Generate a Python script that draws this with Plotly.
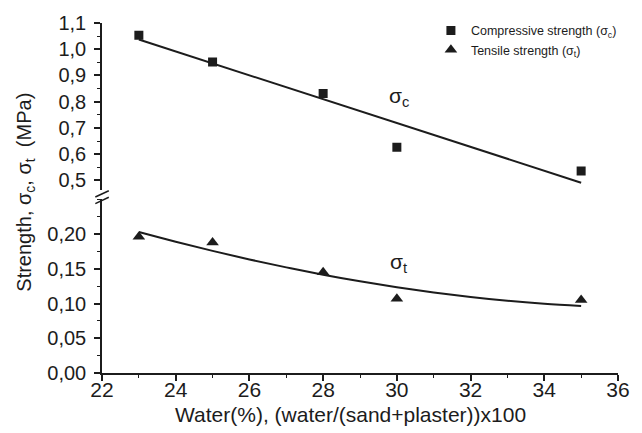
import plotly.graph_objects as go

# ---- data ----
water = [23, 25, 28, 30, 35]
compressive = [1.053, 0.951, 0.831, 0.626, 0.536]
tensile = [0.196, 0.188, 0.145, 0.107, 0.105]

fit_c_x = [23, 35]
fit_c_y = [1.037, 0.491]

fit_t_x = [23, 24, 25, 26, 27, 28, 29, 30, 31, 32, 33, 34, 35]
fit_t_y = [0.203, 0.189, 0.1758, 0.1634, 0.152, 0.1415, 0.132, 0.1235,
           0.116, 0.1095, 0.104, 0.0997, 0.0964]

x_ticks = [22, 24, 26, 28, 30, 32, 34, 36]
x_ticktext = ["22", "24", "26", "28", "30", "32", "34", "36"]
upper_ticks = [0.5, 0.6, 0.7, 0.8, 0.9, 1.0, 1.1]
upper_ticktext = ["0,5", "0,6", "0,7", "0,8", "0,9", "1,0", "1,1"]
lower_ticks = [0.0, 0.05, 0.10, 0.15, 0.20]
lower_ticktext = ["0,00", "0,05", "0,10", "0,15", "0,20"]

# ---- layout geometry (pixels) ----
W, H = 642, 433
L, R, T, B = 101.7, 618.3, 22.7, 372.7
PW, PH = R - L, B - T

def px(x):
    return (x - L) / PW

def py(y):
    return (B - y) / PH

INK = "#1c1c1c"
FONT = "Liberation Sans, Arial, sans-serif"

fig = go.Figure()

# fitted lines
fig.add_trace(go.Scatter(x=fit_c_x, y=fit_c_y, mode="lines", yaxis="y2",
                         line=dict(color=INK, width=2), showlegend=False,
                         hoverinfo="skip"))
fig.add_trace(go.Scatter(x=fit_t_x, y=fit_t_y, mode="lines", yaxis="y",
                         line=dict(color=INK, width=2, shape="spline"),
                         showlegend=False, hoverinfo="skip"))
# data points
fig.add_trace(go.Scatter(x=water, y=compressive, mode="markers", yaxis="y2",
                         marker=dict(symbol="square", size=9, color=INK),
                         name="Compressive strength (σ<sub>c</sub>)"))
fig.add_trace(go.Scatter(x=water, y=tensile, mode="markers", yaxis="y",
                         marker=dict(symbol="triangle-up", size=11, color=INK),
                         name="Tensile strength (σ<sub>t</sub>)"))

axis_common = dict(showline=True, linecolor=INK, linewidth=1.5, showgrid=False,
                   zeroline=False, ticks="outside", ticklen=6, tickwidth=1.5,
                   tickcolor=INK)

fig.update_layout(
    width=W, height=H,
    margin=dict(l=L, r=W - R, t=T, b=H - B),
    paper_bgcolor="white", plot_bgcolor="white",
    font=dict(family=FONT, color=INK),
    xaxis=dict(range=[22, 36], tickvals=x_ticks, ticktext=x_ticktext,
               tickfont=dict(size=21), ticklabelstandoff=-9,
               minor=dict(dtick=1, tick0=22, ticklen=3, tickwidth=1.2,
                          tickcolor=INK, ticks="outside"),
               **axis_common),
    yaxis=dict(domain=[0, py(199)], range=[0, 0.25], tickvals=lower_ticks,
               ticktext=lower_ticktext, tickfont=dict(size=20),
               ticklabelstandoff=4,
               minor=dict(dtick=0.025, tick0=0, ticklen=3, tickwidth=1.2,
                          tickcolor=INK, ticks="outside"),
               **axis_common),
    yaxis2=dict(domain=[py(190), 1], range=[0.462, 1.1], anchor="x",
                tickvals=upper_ticks, ticktext=upper_ticktext,
                tickfont=dict(size=20), ticklabelstandoff=4,
                minor=dict(dtick=0.05, tick0=0.5, ticklen=3, tickwidth=1.2,
                           tickcolor=INK, ticks="outside"),
                **axis_common),
    legend=dict(x=px(431), y=py(15.5), xanchor="left", yanchor="top",
                font=dict(size=12.5, color=INK), bgcolor="rgba(0,0,0,0)",
                itemwidth=30, tracegroupgap=0),
    showlegend=True,
)

# axis break marks
for y0 in (196.7, 203.3):
    fig.add_shape(type="line", xref="paper", yref="paper",
                  x0=px(95), y0=py(y0), x1=px(108.5), y1=py(y0 - 6.3),
                  line=dict(color=INK, width=1.5))

# titles and labels
fig.add_annotation(text="Strength, σ<sub>c</sub>, σ<sub>t</sub>  (MPa)",
                   xref="paper", yref="paper", x=px(25), y=py(192),
                   textangle=-90, showarrow=False,
                   font=dict(size=20, color=INK),
                   xanchor="center", yanchor="middle")
fig.add_annotation(text="Water(%), (water/(sand+plaster))x100",
                   xref="paper", yref="paper", x=px(350), y=py(414),
                   showarrow=False, font=dict(size=21, color=INK),
                   xanchor="center", yanchor="middle")
fig.add_annotation(text="σ<sub>c</sub>", x=29.72, y=0.816, xref="x", yref="y2",
                   showarrow=False, font=dict(size=21, color=INK),
                   xanchor="left", yanchor="middle")
fig.add_annotation(text="σ<sub>t</sub>", x=29.77, y=0.158, xref="x", yref="y",
                   showarrow=False, font=dict(size=21, color=INK),
                   xanchor="left", yanchor="middle")

fig.write_html("out.html")
